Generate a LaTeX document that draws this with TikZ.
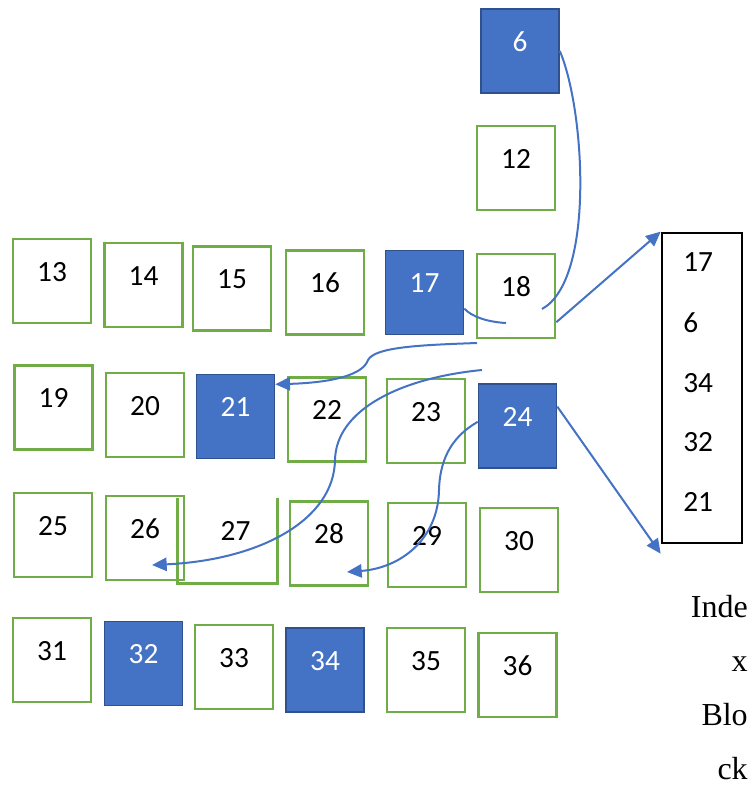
\documentclass[tikz,border=0pt]{standalone}
\usepackage{fontspec}
\setmainfont{Liberation Serif}
\newfontfamily\cellfont{Carlito}
\usetikzlibrary{arrows.meta}
\definecolor{cellgreen}{RGB}{112,173,71}
\definecolor{hitblue}{RGB}{68,114,196}
\definecolor{hitedge}{RGB}{47,82,143}
\tikzset{
  cell/.style={draw=cellgreen,line width=2pt,minimum width=58.5pt,minimum height=63pt,inner sep=0pt,
    text height=14pt,text depth=14pt,font=\cellfont\fontsize{22}{26}\selectfont},
  hit/.style={cell,draw=hitedge,line width=1.2pt,fill=hitblue,text=white},
  link/.style={hitblue,line width=1.5pt},
  arr/.style={link,-{Triangle[length=11pt,width=10pt]}},
  entry/.style={anchor=west,inner sep=0pt,text height=14pt,text depth=0pt,font=\cellfont\fontsize{22}{26}\selectfont},
  idxbox/.style={draw=black,line width=2pt,minimum width=60pt,minimum height=232.5pt,inner sep=0pt}
}
\begin{document}
\begin{tikzpicture}[x=0.75pt,y=-0.75pt]
  \useasboundingbox (0,0) rectangle (755,785);
  % blocks
  \node[hit] (c6) at (520,51) {6};
  \node[cell] (c12) at (516,168) {12};
  \node[cell] (c13) at (52,281) {13}; \node[cell] (c14) at (143.5,285) {14}; \node[cell] (c15) at (232,288.5) {15};
  \node[cell] (c16) at (325,292.5) {16}; \node[hit] (c17) at (424.5,292.5) {17}; \node[cell] (c18) at (516,296) {18};
  \node[cell] (c19) at (53.5,407.5) {19}; \node[cell] (c20) at (145,415) {20}; \node[hit] (c21) at (235.5,416.5) {21};
  \node[cell] (c22) at (327,419.5) {22}; \node[cell] (c23) at (426,421) {23}; \node[hit] (c24) at (517.5,426) {24};
  \node[cell] (c25) at (53,535) {25}; \node[cell] (c26) at (145,538) {26};
  \node[cell,draw=none,minimum width=72.75pt,minimum height=62.25pt] (c27) at (227.5,540.5) {\hspace{12pt}27};
  \draw[cellgreen,line width=2pt] (c27.north west) -- (c27.south west) -- (c27.south east) -- (c27.north east);
  \node[cell] (c28) at (329,543.5) {28}; \node[cell] (c29) at (427,545) {29}; \node[cell] (c30) at (519,550) {30};
  \node[cell] (c31) at (52,660) {31}; \node[hit] (c32) at (143.5,663.5) {32}; \node[cell] (c33) at (234,667) {33};
  \node[hit] (c34) at (325,670) {34}; \node[cell] (c35) at (426,670) {35}; \node[cell] (c36) at (517.5,675) {36};
  % index block
  \node[idxbox] (idx) at (702,388) {};
  \node[entry] (e1) at (683,262) {17}; \node[entry] (e2) at (683,323) {6}; \node[entry] (e3) at (683,383) {34};
  \node[entry] (e4) at (683,442) {32}; \node[entry] (e5) at (683,502) {21};
  \node[anchor=north east,align=right,inner sep=0pt,font=\fontsize{24}{40.5}\selectfont] (lbl) at (748,595) {Inde\\x\\Blo\\ck};
  % free ends
  \coordinate (p6) at (542,309); \coordinate (p17) at (506,323);
  \coordinate (q21) at (477,343); \coordinate (q26) at (482,370);
  \coordinate (p26) at (152,565); \coordinate (p28) at (347,572);
  % links
  \draw[link] (c6.east) .. controls (585,110) and (595,280) .. (p6);
  \draw[link] (c17.-22) .. controls (472,317) and (488,322) .. (p17);
  \draw[arr] (c18.-33) -- (idx.north west);
  \draw[arr] (c24.26) -- ([yshift=-7pt]idx.south west);
  \draw[arr] (q21) .. controls (420,345) and (375,347) .. (368,360) .. controls (362,378) and (320,383) .. (c21.39);
  \draw[arr] (q26) .. controls (400,378) and (336,410) .. (335,460) .. controls (334,520) and (260,560) .. (p26);
  \draw[arr] (c24.174) .. controls (455,435) and (440,455) .. (439,490) .. controls (438,540) and (400,568) .. (p28);
\end{tikzpicture}
\end{document}
